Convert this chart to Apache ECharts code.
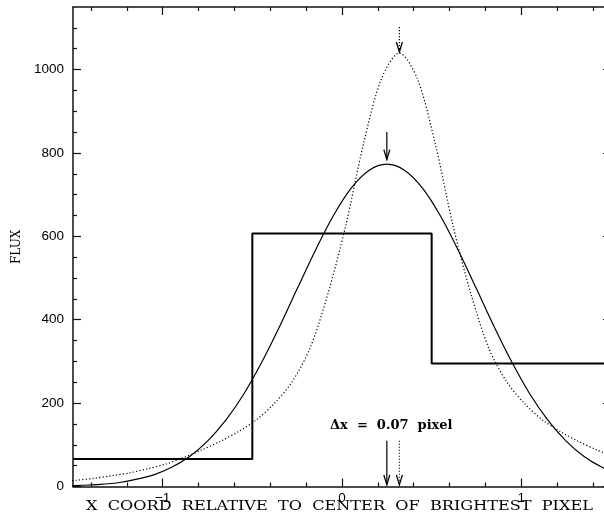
<!DOCTYPE html>
<html>
<head>
<meta charset="UTF-8">
<title>Flux profile</title>
<script src="https://cdn.jsdelivr.net/npm/echarts@6/dist/echarts.min.js"></script>
<style>
  body { margin: 0; padding: 0; background: #fff; overflow: hidden; }
  #chart { width: 604px; height: 519px; }
</style>
</head>
<body>
<div id="chart"></div>
<script>
// pixel histogram (step)
var stepX = [-1.5, -0.5, 0.5, 1.5];
var stepY = [66, 607, 295, 295];

// solid curve (even 0.1 spacing, peak at 0.25)
var solX = [-1.55,-1.45,-1.35,-1.25,-1.15,-1.05,-0.95,-0.85,-0.75,-0.65,-0.55,-0.45,-0.35,-0.25,-0.15,-0.05,0.05,0.15,
            0.25,0.35,0.45,0.55,0.65,0.75,0.85,0.95,1.05,1.15,1.25,1.35,1.45,1.55];
var solY = [1,3,5,9,17,28,46,72,109,158,220,296,382,474,565,648,715,758,
            773,758,715,648,565,474,382,296,220,158,109,72,46,28];

// dotted curve
var dotX = [-1.58,-1.48,-1.38,-1.28,-1.18,-1.08,-0.98,-0.88,-0.78,-0.68,-0.58,-0.48,-0.38,-0.28,-0.18,-0.08,
            0.02,0.12,0.22,0.32,0.42,0.52,0.62,0.72,0.82,0.92,1.02,1.12,1.22,1.32,1.42,1.52];
var dotY = [11,15,20,26,33,43,54,70,88,108,131,159,198,250,330,460,
            624,822,978,1040,978,822,624,460,330,250,198,159,131,108,88,70];

// arrows: x, from, to, dotted?
var arrowX    = [0.25, 0.32, 0.25, 0.32];
var arrowFrom = [850, 1102, 110, 110];
var arrowTo   = [784, 1042, 4, 4];
var arrowDot  = [0, 1, 0, 1];

// ticks
var xMajor = [-1, 0, 1];
var xMinor = [-1.4,-1.2,-0.8,-0.6,-0.4,-0.2,0.2,0.4,0.6,0.8,1.2,1.4];
var yMajor = [0, 200, 400, 600, 800, 1000];
var yMinor = [50,100,150,250,300,350,450,500,550,650,700,750,850,900,950,1050,1100];

function zip(a, b) { return a.map(function (v, i) { return [v, b[i]]; }); }

var lineCol = '#111';
function axis(dim, pos, ticks, len, labels, showLine) {
  var a = {
    type: 'value', position: pos,
    min: dim === 'x' ? -1.5 : 0,
    max: dim === 'x' ? 1.5 : 1150,
    axisLine: { show: showLine, onZero: false, lineStyle: { color: lineCol, width: 1.5 } },
    axisTick: { show: true, inside: true, length: len, customValues: ticks,
                lineStyle: { color: lineCol, width: 1.2 } },
    axisLabel: { show: false },
    splitLine: { show: false }
  };
  if (labels) {
    a.axisLabel = {
      show: true, customValues: ticks, color: '#000',
      fontFamily: 'Liberation Sans', fontSize: 13.5,
      margin: dim === 'x' ? 5 : 9,
      formatter: function (v) { return String(v).replace('-', '\u2212'); }
    };
  }
  return a;
}

var chart = echarts.init(document.getElementById('chart'), null, { renderer: 'canvas' });
chart.setOption({
  backgroundColor: '#fff',
  animation: false,
  grid: { left: 73, top: 7, width: 538, height: 479.5, outerBoundsMode: 'none', containLabel: false },
  xAxis: [
    axis('x', 'bottom', xMajor, 8, true, true),
    axis('x', 'bottom', xMinor, 4, false, false),
    axis('x', 'top', xMajor, 8, false, true),
    axis('x', 'top', xMinor, 4, false, false)
  ],
  yAxis: [
    axis('y', 'left', yMajor, 8, true, true),
    axis('y', 'left', yMinor, 4, false, false),
    axis('y', 'right', yMajor, 8, false, true),
    axis('y', 'right', yMinor, 4, false, false)
  ],
  graphic: [
    { type: 'text', x: 86, y: 507, scaleX: 1.24,
      style: { text: 'X  COORD  RELATIVE  TO  CENTER  OF  BRIGHTEST  PIXEL', fill: '#000',
               font: '13px "DejaVu Serif"', verticalAlign: 'middle' } },
    { type: 'text', x: 11, y: 264, rotation: Math.PI / 2,
      style: { text: 'FLUX', fill: '#000', font: '12px "DejaVu Serif"' } },
    { type: 'text', left: 330, top: 419,
      style: { text: '\u0394x  =  0.07  pixel', fill: '#000', font: 'bold 13px "DejaVu Serif"' } }
  ],
  series: [
    { type: 'line', step: 'end', data: zip(stepX, stepY), showSymbol: false,
      lineStyle: { color: '#000', width: 2 } },
    { type: 'line', smooth: 0.3, data: zip(solX, solY), showSymbol: false,
      lineStyle: { color: '#000', width: 1.2 } },
    { type: 'line', smooth: 0.3, data: zip(dotX, dotY), showSymbol: false,
      lineStyle: { color: '#000', width: 1.2, type: [1.2, 2.2] } },
    { type: 'custom', clip: false,
      data: arrowX.map(function (x, i) { return [x, arrowFrom[i], arrowTo[i], arrowDot[i]]; }),
      encode: { x: 0, y: [1, 2] },
      renderItem: function (params, api) {
        var p1 = api.coord([api.value(0), api.value(1)]);
        var p2 = api.coord([api.value(0), api.value(2)]);
        var dotted = api.value(3) === 1;
        return {
          type: 'group',
          children: [
            { type: 'line', shape: { x1: p1[0], y1: p1[1], x2: p2[0], y2: p2[1] },
              style: { stroke: '#000', lineWidth: 1.2, lineDash: dotted ? [1.2, 1.8] : null } },
            { type: 'polyline',
              shape: { points: [[p2[0] - 3, p2[1] - 10], [p2[0], p2[1]], [p2[0] + 3, p2[1] - 10]] },
              style: { stroke: '#000', fill: null, lineWidth: 1.3 } }
          ]
        };
      }
    }
  ]
});
</script>
</body>
</html>
